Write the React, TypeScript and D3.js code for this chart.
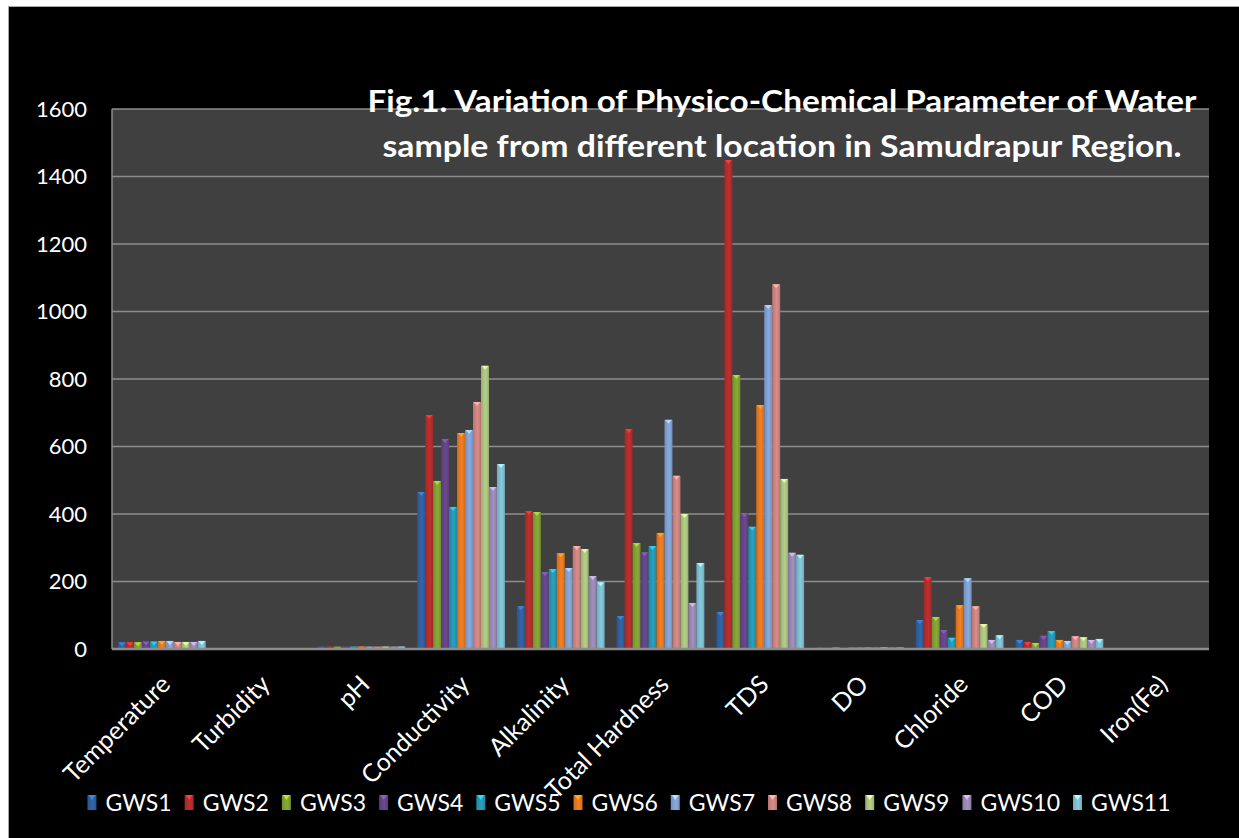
import { useEffect, useRef } from 'react';
import * as d3 from 'd3';

const categories = ['Temperature', 'Turbidity', 'pH', 'Conductivity', 'Alkalinity', 'Total Hardness', 'TDS', 'DO', 'Chloride', 'COD', 'Iron(Fe)'];
const seriesNames = ['GWS1', 'GWS2', 'GWS3', 'GWS4', 'GWS5', 'GWS6', 'GWS7', 'GWS8', 'GWS9', 'GWS10', 'GWS11'];
const seriesColors = ['#2f5f9e', '#b12d2b', '#7f9f33', '#634485', '#2596b2', '#e57720', '#7f9fd0', '#cc8280', '#a9c27e', '#9887b1', '#7dbccf'];

// values[series][category]
const gws1 = [20, 1.5, 7.6, 465, 127, 98, 110, 5, 86, 27, 0.3];
const gws2 = [20, 1.2, 7.8, 693, 409, 652, 1449, 4.8, 213, 21, 0.4];
const gws3 = [20, 1.0, 7.5, 498, 406, 314, 812, 5.2, 95, 18, 0.3];
const gws4 = [22, 1.4, 7.7, 622, 228, 287, 403, 4.6, 56, 39, 0.2];
const gws5 = [22, 1.1, 7.9, 421, 237, 305, 362, 5.1, 33, 53, 0.3];
const gws6 = [24, 1.3, 8.0, 640, 284, 344, 723, 4.9, 130, 27, 0.4];
const gws7 = [24, 1.2, 7.6, 649, 240, 679, 1019, 5.0, 210, 24, 0.3];
const gws8 = [21, 1.0, 7.4, 732, 305, 513, 1081, 4.7, 127, 38, 0.2];
const gws9 = [21, 1.5, 7.8, 839, 296, 400, 504, 5.3, 74, 35, 0.3];
const gws10 = [21, 1.2, 7.7, 480, 216, 136, 285, 4.8, 27, 27, 0.3];
const gws11 = [24, 1.1, 7.9, 548, 198, 255, 279, 5.0, 41, 30, 0.2];
const seriesValues = [gws1, gws2, gws3, gws4, gws5, gws6, gws7, gws8, gws9, gws10, gws11];

const yTicks = [0, 200, 400, 600, 800, 1000, 1200, 1400, 1600];
const titleLines = [
  'Fig.1. Variation of Physico-Chemical Parameter of Water',
  'sample from different location in Samudrapur Region.',
];
const titleWidths = [829, 799];

const W = 1239;
const H = 838;
const FONT = 'Lato, "Open Sans", sans-serif';

export default function App() {
  const svgRef = useRef<SVGSVGElement>(null);

  useEffect(() => {
    if (!svgRef.current) return;
    const svg = d3.select(svgRef.current);
    svg.selectAll('*').remove();

    const plot = { left: 112, right: 1209, top: 109, bottom: 649 };

    // background
    svg.append('rect').attr('width', W).attr('height', H).attr('fill', '#ffffff');
    svg.append('rect')
      .attr('x', 8.5).attr('y', 6.5).attr('width', W).attr('height', H)
      .attr('fill', '#000').attr('stroke', '#a6a6a6').attr('stroke-width', 1);

    const defs = svg.append('defs');
    seriesColors.forEach((c, i) => {
      const base = d3.color(c)!;
      const g = defs.append('linearGradient').attr('id', `grad${i}`)
        .attr('x1', '0').attr('x2', '1').attr('y1', '0').attr('y2', '0');
      g.append('stop').attr('offset', '0%').attr('stop-color', base.darker(0.3).formatHex());
      g.append('stop').attr('offset', '30%').attr('stop-color', base.formatHex());
      g.append('stop').attr('offset', '60%').attr('stop-color', base.brighter(0.2).formatHex());
      g.append('stop').attr('offset', '100%').attr('stop-color', base.darker(0.3).formatHex());
    });

    const x0 = d3.scaleBand<string>().domain(categories).range([plot.left, plot.right]).padding(0);
    const x1 = d3.scaleBand<string>().domain(seriesNames).range([6, x0.bandwidth() - 6]).padding(0);
    const y = d3.scaleLinear().domain([0, 1600]).range([plot.bottom, plot.top]);

    // plot area
    svg.append('rect')
      .attr('x', plot.left).attr('y', plot.top)
      .attr('width', plot.right - plot.left).attr('height', plot.bottom - plot.top)
      .attr('fill', '#404040');

    // gridlines
    svg.append('g')
      .selectAll('line')
      .data(yTicks.filter((t) => t > 0))
      .join('line')
      .attr('x1', plot.left).attr('x2', plot.right)
      .attr('y1', (d) => y(d)).attr('y2', (d) => y(d))
      .attr('stroke', '#8c8c8c').attr('stroke-width', 1.5);

    // left border
    svg.append('line')
      .attr('x1', plot.left).attr('x2', plot.left)
      .attr('y1', plot.top).attr('y2', plot.bottom)
      .attr('stroke', '#8c8c8c').attr('stroke-width', 1.5);

    // bars
    const groups = svg.append('g')
      .selectAll('g')
      .data(categories)
      .join('g')
      .attr('transform', (d) => `translate(${x0(d)},0)`);

    groups.each(function (_cat, ci) {
      const grp = d3.select(this);
      seriesNames.forEach((s, si) => {
        const v = seriesValues[si][ci];
        const bx = x1(s)!;
        const bw = x1.bandwidth();
        const top = y(v);
        grp.append('rect')
          .attr('x', bx).attr('y', top)
          .attr('width', bw).attr('height', plot.bottom - top)
          .attr('fill', `url(#grad${si})`);
        if (plot.bottom - top > 4) {
          const light = d3.color(seriesColors[si])!.brighter(1).formatHex();
          grp.append('path')
            .attr('d', `M${bx + 0.5},${top} L${bx + bw - 0.5},${top} L${bx + bw / 2},${top + 4} Z`)
            .attr('fill', light).attr('opacity', 0.85);
        }
      });
    });

    // x axis line
    svg.append('line')
      .attr('x1', plot.left).attr('x2', plot.right)
      .attr('y1', plot.bottom).attr('y2', plot.bottom)
      .attr('stroke', '#8c8c8c').attr('stroke-width', 2.5);

    // y tick labels
    svg.append('g')
      .selectAll('text')
      .data(yTicks)
      .join('text')
      .attr('x', 87).attr('y', (d) => y(d))
      .attr('dy', '0.35em')
      .attr('text-anchor', 'end')
      .attr('fill', '#fff')
      .attr('font-family', FONT).attr('font-size', 22)
      .text((d) => d);

    // category labels
    svg.append('g')
      .selectAll('text')
      .data(categories)
      .join('text')
      .attr('transform', (d) => `translate(${x0(d)! + x0.bandwidth() / 2 + 10},${686}) rotate(-45)`)
      .attr('text-anchor', 'end')
      .attr('fill', '#fff')
      .attr('font-family', FONT).attr('font-size', 25)
      .text((d) => d);

    // title
    svg.append('g')
      .selectAll('text')
      .data(titleLines)
      .join('text')
      .attr('x', 782).attr('y', (_, i) => 112 + i * 45)
      .attr('text-anchor', 'middle')
      .attr('fill', '#fff')
      .attr('font-family', FONT).attr('font-weight', 'bold').attr('font-size', 30)
      .attr('textLength', (_, i) => titleWidths[i])
      .attr('lengthAdjust', 'spacingAndGlyphs')
      .text((d) => d);

    // legend
    const legend = svg.append('g');
    let cursor = 0;
    seriesNames.forEach((s, i) => {
      const item = legend.append('g').attr('transform', `translate(${cursor},0)`);
      item.append('rect')
        .attr('x', 0).attr('y', -8).attr('width', 9).attr('height', 15)
        .attr('fill', `url(#grad${i})`);
      item.append('path')
        .attr('d', 'M1,-8 L8,-8 L4.5,-3 Z')
        .attr('fill', d3.color(seriesColors[i])!.brighter(1).formatHex());
      const t = item.append('text')
        .attr('x', 18).attr('y', 0).attr('dy', '0.35em')
        .attr('fill', '#fff')
        .attr('font-family', FONT).attr('font-size', 23)
        .text(s);
      const tw = (t.node() as SVGTextElement).getComputedTextLength();
      cursor += 18 + tw + 13;
    });
    const total = cursor - 13;
    legend.attr('transform', `translate(${629 - total / 2},803)`);
  }, []);

  return (
    <div style={{ position: 'absolute', left: 0, top: 0 }}>
      <svg ref={svgRef} width={W} height={H} style={{ display: 'block' }} />
    </div>
  );
}
